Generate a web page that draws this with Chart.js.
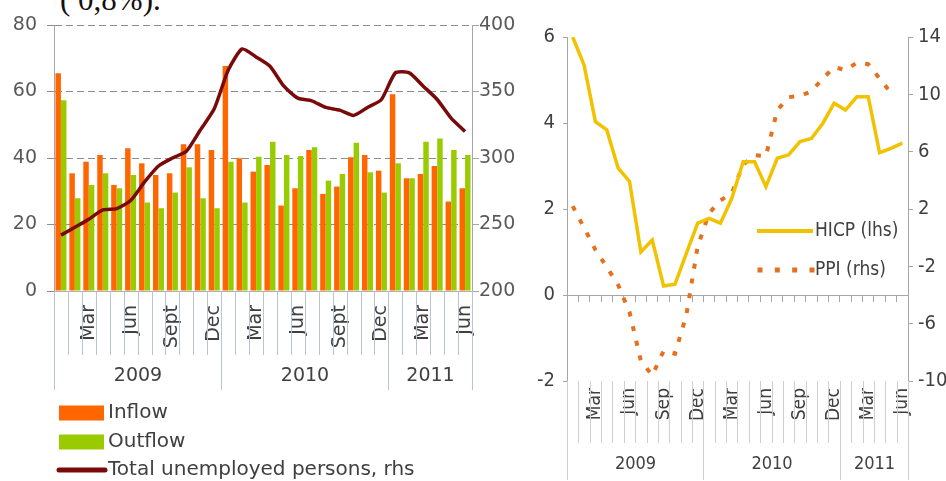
<!DOCTYPE html>
<html>
<head>
<meta charset="utf-8">
<title>Unemployment flows and price indices</title>
<script src="https://cdn.jsdelivr.net/npm/chart.js@4.4.1/dist/chart.umd.min.js"></script>
<style>
    body { margin: 0; background: #fff; }
    #page { position: relative; width: 946px; height: 481px; overflow: hidden; background: #fff; }
    #note { position: absolute; left: 60px; top: -16px; font: 31px 'Liberation Serif', serif; line-height: 31px; color: #111; white-space: pre; }
    #flows { position: absolute; left: 0; top: 0; }
    #prices { position: absolute; left: 525px; top: 0; }
</style>
</head>
<body>
<div id="page">
    <div id="note">( 0,8%).</div>
    <canvas id="flows" width="530" height="481"></canvas>
    <canvas id="prices" width="421" height="481"></canvas>
</div>
<script>
// Months on both charts: Jan 2009 - Jun 2011
const categories = [
    '2009-01', '2009-02', '2009-03', '2009-04', '2009-05', '2009-06',
    '2009-07', '2009-08', '2009-09', '2009-10', '2009-11', '2009-12',
    '2010-01', '2010-02', '2010-03', '2010-04', '2010-05', '2010-06',
    '2010-07', '2010-08', '2010-09', '2010-10', '2010-11', '2010-12',
    '2011-01', '2011-02', '2011-03', '2011-04', '2011-05', '2011-06'
];
const yearLabels = ['2009', '2010', '2011'];
const flowMonthTicks = { '03': 'Mar', '06': 'Jun', '09': 'Sept', '12': 'Dec' };
const priceMonthTicks = { '03': 'Mar', '06': 'Jun', '09': 'Sep', '12': 'Dec' };

// Left chart (thousands)
const inflow = [65.5, 35.4, 38.9, 40.9, 31.9, 42.9, 38.4, 34.9, 35.4, 44.1, 44.1, 42.4,
                67.7, 39.9, 35.9, 37.9, 25.7, 30.9, 42.4, 29.2, 31.4, 40.2, 40.9, 36.2,
                59.2, 33.9, 35.2, 37.6, 26.9, 30.9];
const outflow = [57.4, 27.9, 31.9, 35.4, 30.9, 34.9, 26.6, 24.9, 29.6, 37.2, 27.9, 24.9,
                 38.9, 26.6, 40.4, 44.9, 40.9, 40.6, 43.2, 33.2, 35.2, 44.6, 35.7, 29.6,
                 38.4, 33.9, 44.9, 45.9, 42.4, 40.9];
const unemployed = [242, 248, 254, 261, 262, 268, 282, 294, 300, 305, 321, 337,
                    366, 382, 376, 369, 354, 345, 343, 338, 336, 332, 338, 344,
                    364, 364, 354, 344, 330, 320];

// Right chart (annual % change)
const hicp = [6.0, 5.35, 4.03, 3.84, 2.95, 2.64, 1.0, 1.28, 0.21, 0.25, 0.97, 1.67,
              1.78, 1.67, 2.25, 3.10, 3.10, 2.52, 3.18, 3.26, 3.57, 3.64, 3.99, 4.46,
              4.30, 4.61, 4.61, 3.31, 3.41, 3.53];
const ppi = [2.2, 0.7, -0.85, -2.05, -3.3, -5.2, -8.6, -9.6, -7.9, -8.1, -5.4, -0.6,
             1.7, 2.6, 3.1, 5.1, 5.75, 5.7, 8.9, 9.8, 9.9, 10.2, 11.1, 11.9,
             11.7, 12.2, 12.1, 11.1, 10.1, null];

Chart.defaults.font.family = "'DejaVu Sans', sans-serif";
Chart.defaults.animation = false;

/**
 * Month separators under the axis plus a row of year labels
 */
const categoryRows = {
    id: 'categoryRows',
    afterDraw(chart, args, opts) {
        const xScale = chart.scales.x;
        const ctx = chart.ctx;
        const labels = chart.data.labels;
        const step = xScale.getPixelForValue(1) - xScale.getPixelForValue(0);
        const edge = i => Math.round(xScale.getPixelForValue(0) - step / 2 + i * step) + 0.5;
        const top = Math.round(chart.chartArea.bottom);

        ctx.save();
        ctx.strokeStyle = opts.lineColor;
        ctx.lineWidth = 1;
        ctx.beginPath();
        for (let i = 0; i <= labels.length; i++) {
            ctx.moveTo(edge(i), top);
            ctx.lineTo(edge(i), opts.monthBottom);
        }
        ctx.stroke();

        ctx.font = opts.font;
        ctx.fillStyle = opts.textColor;
        ctx.textAlign = 'center';
        ctx.textBaseline = 'middle';
        yearLabels.forEach(year => {
            const first = labels.findIndex(l => l.startsWith(year));
            let last = first;
            while (last + 1 < labels.length && labels[last + 1].startsWith(year)) last++;
            ctx.beginPath();
            ctx.moveTo(edge(first), top);
            ctx.lineTo(edge(first), opts.yearBottom);
            ctx.moveTo(edge(last + 1), top);
            ctx.lineTo(edge(last + 1), opts.yearBottom);
            ctx.stroke();
            ctx.fillText(year, (edge(first) + edge(last + 1)) / 2, opts.yearY);
        });
        ctx.restore();
    }
};

/**
 * Simple stacked legend drawn at fixed rows
 */
const rowLegend = {
    id: 'rowLegend',
    afterDraw(chart, args, opts) {
        const ctx = chart.ctx;
        ctx.save();
        chart.data.datasets.forEach((ds, i) => {
            const row = opts.rows[i];
            if (row.kind === 'box') {
                ctx.fillStyle = ds.backgroundColor;
                ctx.fillRect(row.x, row.y - row.h / 2, row.w, row.h);
            } else if (row.kind === 'line') {
                ctx.strokeStyle = ds.borderColor;
                ctx.lineWidth = row.h;
                ctx.lineCap = row.cap || 'butt';
                ctx.beginPath();
                ctx.moveTo(row.x, row.y);
                ctx.lineTo(row.x + row.w, row.y);
                ctx.stroke();
            } else if (row.kind === 'dots') {
                ctx.fillStyle = ds.borderColor;
                for (let k = 0; k < row.n; k++) {
                    const cx = row.x + k * (row.w / (row.n - 1));
                    ctx.fillRect(cx - row.h / 2, row.y - row.h / 2, row.h, row.h);
                }
            }
            ctx.font = opts.font;
            ctx.fillStyle = opts.textColor;
            ctx.textAlign = 'left';
            ctx.textBaseline = 'middle';
            ctx.fillText(ds.label, opts.textX, row.y);
        });
        ctx.restore();
    }
};

const monthTick = map => function (value) {
    const cat = this.getLabelForValue(value);
    return map[cat.slice(5)] || '';
};

// Left: unemployment inflow / outflow
new Chart(document.getElementById('flows'), {
    type: 'bar',
    data: {
        labels: categories,
        datasets: [
            { label: 'Inflow', data: inflow, backgroundColor: '#FF6600', yAxisID: 'y', order: 2 },
            { label: 'Outflow', data: outflow, backgroundColor: '#99CC00', yAxisID: 'y', order: 2 },
            {
                type: 'line', label: 'Total unemployed persons, rhs', data: unemployed,
                borderColor: '#7A0A0A', borderWidth: 3.5, pointRadius: 0, tension: 0.2,
                yAxisID: 'y2', order: 1
            }
        ]
    },
    options: {
        responsive: false,
        layout: { padding: { top: 25, left: 0, right: 0, bottom: 0 } },
        datasets: { bar: { categoryPercentage: 0.8, barPercentage: 0.98 } },
        plugins: {
            legend: { display: false },
            tooltip: { enabled: false },
            categoryRows: {
                lineColor: '#b9c3d3', textColor: '#404040', font: "19px 'DejaVu Sans'",
                monthBottom: 355, yearBottom: 390, yearY: 376
            },
            rowLegend: {
                font: "20px 'DejaVu Sans'", textColor: '#404040', textX: 108,
                rows: [
                    { kind: 'box', x: 59, y: 413, w: 45, h: 15 },
                    { kind: 'box', x: 59, y: 442, w: 45, h: 15 },
                    { kind: 'line', x: 59, y: 470, w: 46, h: 5, cap: 'round' }
                ]
            }
        },
        scales: {
            x: {
                grid: { display: false, drawTicks: false },
                border: { display: true, color: '#b0b0b0' },
                ticks: {
                    autoSkip: false, minRotation: 90, maxRotation: 90, padding: 14,
                    color: '#404040', font: { size: 19 }, callback: monthTick(flowMonthTicks)
                },
                afterFit: s => { s.height = 190; }
            },
            y: {
                position: 'left', min: 0, max: 80,
                ticks: { stepSize: 20, padding: 10, color: '#595959', font: { size: 19 } },
                grid: { color: '#8c8c8c', tickLength: 7 },
                border: { display: true, color: '#a6a6a6', dash: [7, 4] },
                afterFit: s => { s.width = 54; }
            },
            y2: {
                position: 'right', min: 200, max: 400,
                ticks: { stepSize: 50, padding: 0, color: '#595959', font: { size: 19 } },
                grid: { drawOnChartArea: false, color: '#a6a6a6', tickLength: 7 },
                border: { display: true, color: '#a6a6a6' },
                afterFit: s => { s.width = 58; }
            }
        }
    },
    plugins: [categoryRows, rowLegend]
});

// Right: HICP and PPI
const condensed = "'DejaVu Sans Condensed', 'DejaVu Sans', sans-serif";
new Chart(document.getElementById('prices'), {
    type: 'line',
    data: {
        labels: categories,
        datasets: [
            {
                label: 'HICP (lhs)', data: hicp, borderColor: '#F2C200', borderWidth: 3.5,
                pointRadius: 0, yAxisID: 'y'
            },
            {
                label: 'PPI (rhs)', data: ppi, borderColor: '#E5701E', borderWidth: 4,
                borderDash: [5, 10], borderCapStyle: 'butt', pointRadius: 0, yAxisID: 'y2'
            }
        ]
    },
    options: {
        responsive: false,
        layout: { padding: { top: 37, left: 0, right: 0, bottom: 0 } },
        plugins: {
            legend: { display: false },
            tooltip: { enabled: false },
            categoryRows: {
                lineColor: '#cfcfcf', textColor: '#404040', font: '18px ' + condensed,
                monthBottom: 443, yearBottom: 480, yearY: 464
            },
            rowLegend: {
                font: '19px ' + condensed, textColor: '#404040', textX: 290,
                rows: [
                    { kind: 'line', x: 232, y: 231, w: 56, h: 4 },
                    { kind: 'dots', x: 235, y: 270, w: 52, h: 5, n: 4 }
                ]
            }
        },
        scales: {
            x: {
                offset: true,
                grid: { display: false, drawTicks: false },
                border: { display: false },
                ticks: {
                    autoSkip: false, minRotation: 90, maxRotation: 90, padding: 7,
                    color: '#404040', font: { size: 19, family: condensed },
                    callback: monthTick(priceMonthTicks)
                },
                afterFit: s => { s.height = 100; }
            },
            x2: {
                type: 'category', position: { y: 0 }, offset: true,
                grid: { offset: true, drawOnChartArea: false, tickLength: 6, color: '#a6a6a6' },
                border: { display: true, color: '#a6a6a6' },
                ticks: { display: false }
            },
            y: {
                position: 'left', min: -2, max: 6,
                ticks: { stepSize: 2, padding: 8, color: '#404040', font: { size: 20, family: condensed } },
                grid: { drawOnChartArea: false, color: '#a6a6a6', tickLength: 4 },
                border: { display: true, color: '#a6a6a6' },
                afterFit: s => { s.width = 42; }
            },
            y2: {
                position: 'right', min: -10, max: 14,
                ticks: { stepSize: 4, padding: 5, color: '#404040', font: { size: 20, family: condensed } },
                grid: { drawOnChartArea: false, color: '#a6a6a6', tickLength: 5 },
                border: { display: true, color: '#a6a6a6' },
                afterFit: s => { s.width = 38; }
            }
        }
    },
    plugins: [categoryRows, rowLegend]
});
</script>
</body>
</html>
